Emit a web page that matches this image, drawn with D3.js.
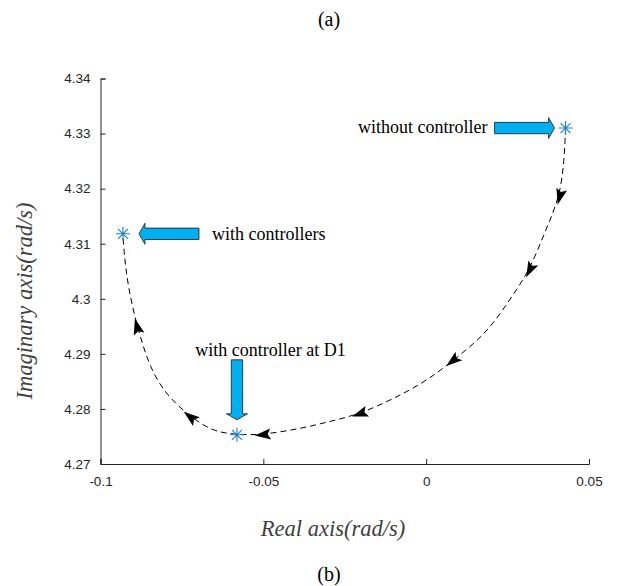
<!DOCTYPE html>
<html>
<head>
<meta charset="utf-8">
<script src="https://cdn.jsdelivr.net/npm/d3@7"></script>
<style>
	body { margin: 0; background: #fff; }
	svg { display: block; }
	.serif { font-family: Liberation Serif, DejaVu Serif, serif; }
</style>
</head>
<body>
<div id="chart"></div>
<script>
var width = 619;
var height = 586;

// root locus of the eigenvalue (real, imaginary)
var realPart = [0.0428, 0.0424, 0.0410, 0.0370, 0.0318, 0.0262, 0.0216, 0.0164, 0.0081, 0.0010,
	-0.0060, -0.0121, -0.0204, -0.0296, -0.0388, -0.0502, -0.0581, -0.0655, -0.0725, -0.0796,
	-0.0848, -0.0888, -0.0916, -0.0928, -0.0931];
var imagPart = [4.3310, 4.3250, 4.3185, 4.3129, 4.3052, 4.3003, 4.2963, 4.2927, 4.2887, 4.2855,
	4.2831, 4.2813, 4.2791, 4.2777, 4.2764, 4.2753, 4.2753, 4.2759, 4.2786, 4.2824,
	4.2873, 4.2950, 4.3023, 4.3085, 4.3118];
// curve points where a direction arrow sits
var arrowIdx = [2, 4, 8, 12, 15, 18, 21];
// the three marked eigenvalues
var markReal = [0.0428, -0.0931, -0.0581];
var markImag = [4.3310, 4.3118, 4.2753];
var markLabels = ["without controller", "with controllers", "with controller at D1"];

var xTicks = [-0.1, -0.05, 0, 0.05];
var yTicks = [4.27, 4.28, 4.29, 4.3, 4.31, 4.32, 4.33, 4.34];

var margin = { top: 78.5, right: 30, bottom: 122, left: 100.5 };

var svg = d3.select("#chart").append("svg")
	.attr("width", width)
	.attr("height", height);

var xScale = d3.scaleLinear()
	.domain([-0.1, 0.05])
	.range([margin.left, width - margin.right]);

var yScale = d3.scaleLinear()
	.domain([4.27, 4.34])
	.range([height - margin.bottom, margin.top]);

// axes, MATLAB style: ticks inside, box off
svg.append("g")
	.attr("transform", "translate(0," + yScale(4.27) + ")")
	.call(d3.axisBottom(xScale).tickValues(xTicks).tickSizeInner(-5).tickSizeOuter(-5).tickPadding(12)
		.tickFormat(function(d) { return d == 0 ? "0" : String(d); }));

svg.append("g")
	.attr("transform", "translate(" + xScale(-0.1) + ",0)")
	.call(d3.axisLeft(yScale).tickValues(yTicks).tickSizeInner(-5).tickSizeOuter(-5).tickPadding(10)
		.tickFormat(function(d) { return String(+d.toFixed(2)); }));

svg.selectAll(".domain, .tick line").attr("stroke", "#262626").attr("stroke-width", 1);
svg.selectAll(".tick text")
	.attr("fill", "#262626")
	.attr("font-family", "Liberation Sans, Arial, sans-serif")
	.attr("font-size", 13.5);

// dashed locus
var pts = realPart.map(function(d, i) { return [xScale(d), yScale(imagPart[i])]; });

var line = d3.line().curve(d3.curveBasis);

svg.append("path")
	.attr("d", line(pts))
	.attr("fill", "none")
	.attr("stroke", "#000")
	.attr("stroke-width", 1)
	.attr("stroke-dasharray", "6,4");

// arrowheads along the locus
svg.selectAll(".dirArrow")
	.data(arrowIdx)
	.enter()
	.append("path")
		.attr("class", "dirArrow")
		.attr("d", "M 8 0 L -8 -5.5 L -5 0 L -8 5.5 Z")
		.attr("fill", "#000")
		.attr("transform", function(i) {
			var a = pts[i - 1], b = pts[i + 1];
			var ang = Math.atan2(b[1] - a[1], b[0] - a[0]) * 180 / Math.PI;
			return "translate(" + pts[i][0] + "," + pts[i][1] + ") rotate(" + ang + ")";
		});

// block arrows pointing at the markers
// dir: angle the arrow points to, gap: distance of tip from marker, len: arrow length
var callouts = [
	{ dir: 0, gap: 11, len: 60, tx: -78, ty: 5, anchor: "end" },
	{ dir: 180, gap: 16, len: 60, tx: 89, ty: 6, anchor: "start" },
	{ dir: 90, gap: 15, len: 60, tx: 33.5, ty: -79, anchor: "middle" }
];

var call = svg.selectAll(".callout")
	.data(callouts)
	.enter()
	.append("g")
		.attr("class", "callout")
		.attr("transform", function(d, i) {
			return "translate(" + xScale(markReal[i]) + "," + yScale(markImag[i]) + ")";
		});

call.append("path")
	.attr("d", function(d) {
		var head = 6, bw = 5.7, hw = 10.5;
		var t = -d.gap, s = -d.gap - d.len;
		return "M " + s + " " + (-bw) + " L " + (t - head) + " " + (-bw) + " L " + (t - head) + " " + (-hw) +
			" L " + t + " 0 L " + (t - head) + " " + hw + " L " + (t - head) + " " + bw + " L " + s + " " + bw + " Z";
	})
	.attr("transform", function(d) { return "rotate(" + d.dir + ")"; })
	.attr("fill", "#00b0f0")
	.attr("stroke", "#1a1a1a")
	.attr("stroke-width", 0.8);

call.append("text")
	.attr("class", "serif")
	.attr("x", function(d) { return d.tx; })
	.attr("y", function(d) { return d.ty; })
	.attr("text-anchor", function(d) { return d.anchor; })
	.attr("font-size", 18)
	.attr("fill", "#000")
	.text(function(d, i) { return markLabels[i]; });

// asterisk markers
var star = svg.selectAll(".mark")
	.data(markReal)
	.enter()
	.append("g")
		.attr("class", "mark")
		.attr("transform", function(d, i) { return "translate(" + xScale(d) + "," + yScale(markImag[i]) + ")"; });

star.append("path")
	.attr("d", "M -7 0 L 7 0 M 0 -7 L 0 7 M -5 -5 L 5 5 M -5 5 L 5 -5")
	.attr("stroke", "#1f82d0")
	.attr("stroke-width", 1.1)
	.attr("fill", "none");

// axis labels and panel labels
svg.append("text")
	.attr("class", "serif")
	.attr("x", 333)
	.attr("y", 536)
	.attr("text-anchor", "middle")
	.attr("font-style", "italic")
	.attr("font-size", 22.5)
	.attr("fill", "#404040")
	.text("Real axis(rad/s)");

svg.append("text")
	.attr("class", "serif")
	.attr("transform", "translate(32,301) rotate(-90)")
	.attr("text-anchor", "middle")
	.attr("font-style", "italic")
	.attr("font-size", 22.5)
	.attr("fill", "#404040")
	.text("Imaginary axis(rad/s)");

svg.append("text")
	.attr("class", "serif")
	.attr("x", 329)
	.attr("y", 26)
	.attr("text-anchor", "middle")
	.attr("font-size", 20)
	.text("(a)");

svg.append("text")
	.attr("class", "serif")
	.attr("x", 329)
	.attr("y", 581)
	.attr("text-anchor", "middle")
	.attr("font-size", 20)
	.text("(b)");
</script>
</body>
</html>
